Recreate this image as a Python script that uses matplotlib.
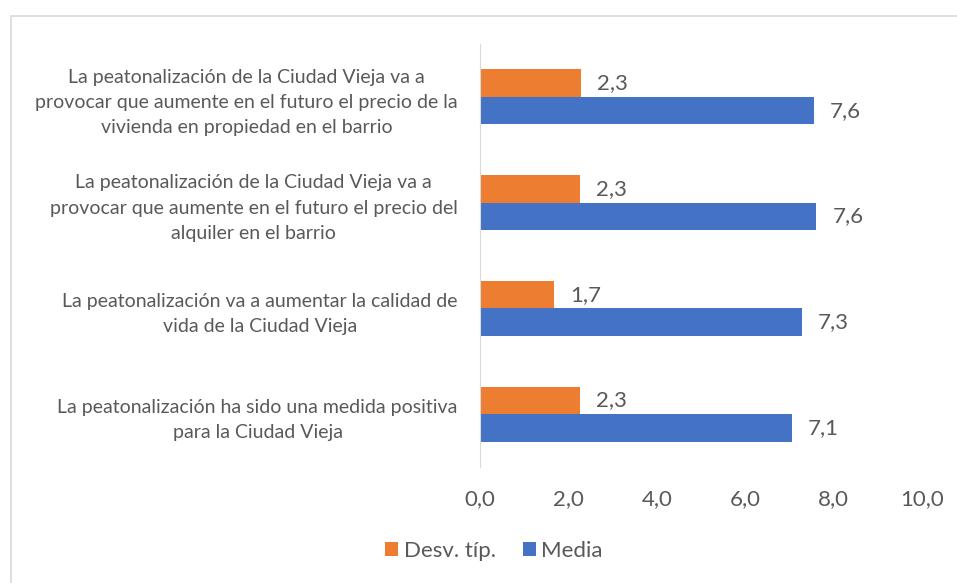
import matplotlib.pyplot as plt
from matplotlib.patches import Rectangle
import numpy as np

plt.rcParams['font.family'] = ['Lato', 'DejaVu Sans']

categories = [
    "La peatonalización de la Ciudad Vieja va a\nprovocar que aumente en el futuro el precio de la\nvivienda en propiedad en el barrio",
    "La peatonalización de la Ciudad Vieja va a\nprovocar que aumente en el futuro el precio del\nalquiler en el barrio",
    "La peatonalización va a aumentar la calidad de\nvida de la Ciudad Vieja",
    "La peatonalización ha sido una medida positiva\npara la Ciudad Vieja",
]
desv = [2.28, 2.26, 1.68, 2.27]
media = [7.56, 7.61, 7.28, 7.06]
xticks = [0, 2, 4, 6, 8, 10]

orange = '#ED7D31'
blue = '#4472C4'
grey = '#595959'

fig = plt.figure(figsize=(9.57, 5.83), dpi=100)
fig.patches.append(Rectangle((11/957, -0.1), 1.2, 1 - 16/583 + 0.1,
                             transform=fig.transFigure, fill=False,
                             edgecolor='#D9D9D9', linewidth=1.2))
ax = fig.add_axes([480/957, 1 - 467/583, 442/957, 423/583])

y = np.arange(len(categories))
h = 0.26
b1 = ax.barh(y - h/2, desv, height=h, color=orange, label='Desv. típ.')
b2 = ax.barh(y + h/2, media, height=h, color=blue, label='Media')

for bars, vals in ((b1, desv), (b2, media)):
    for bar, v in zip(bars, vals):
        ax.annotate(f"{v:.1f}".replace('.', ','),
                    (bar.get_width(), bar.get_y() + bar.get_height()/2),
                    xytext=(11.5, 0), textcoords='offset points',
                    va='center', ha='left', fontsize=16, color=grey)

ax.set_xlim(0, 10)
ax.set_ylim(len(categories) - 0.5, -0.5)
ax.set_xticks(xticks)
ax.set_xticklabels([f"{t:.1f}".replace('.', ',') for t in xticks])
ax.set_yticks(y)
ax.set_yticklabels(categories, multialignment='center', fontsize=14,
                   color=grey, linespacing=1.6)
ax.tick_params(axis='x', length=0, pad=16, labelsize=16, labelcolor=grey)
ax.tick_params(axis='y', length=0, pad=16)
for s in ('top', 'right', 'bottom'):
    ax.spines[s].set_visible(False)
ax.spines['left'].set_color('#D9D9D9')

fig.legend(loc='center', bbox_to_anchor=(494/957, 1 - 551/583), ncol=2,
           frameon=False, fontsize=16, handlelength=0.6, handleheight=0.6,
           handletextpad=0.25, columnspacing=1.2, labelcolor=grey)

fig.savefig('out.png', dpi=100)
